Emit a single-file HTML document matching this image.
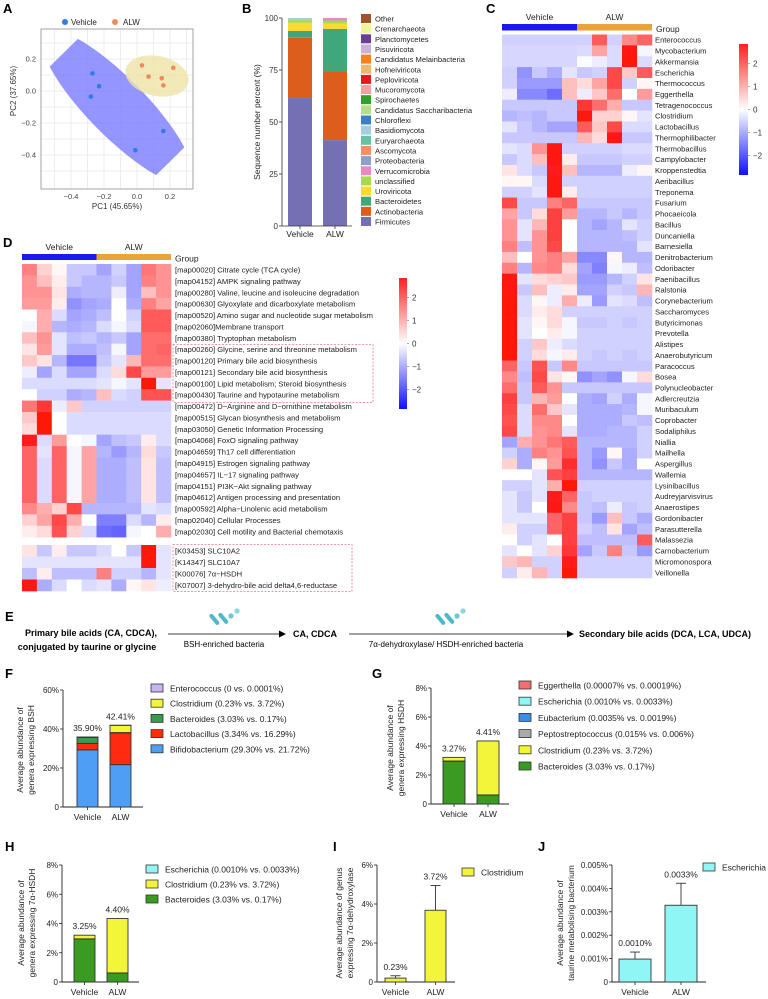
<!DOCTYPE html>
<html><head><meta charset="utf-8">
<style>
html,body{margin:0;padding:0;background:#fff;}
svg{display:block;font-family:"Liberation Sans",sans-serif;}
.n{font-family:"Liberation Sans Narrow","Liberation Sans",sans-serif;}
</style></head>
<body>
<svg id="fig" width="768" height="999" viewBox="0 0 768 999" xmlns="http://www.w3.org/2000/svg">
<g font-weight="bold" font-size="13" fill="#000">
<text x="3" y="13">A</text>
<text x="242" y="13">B</text>
<text x="486" y="13">C</text>
<text x="3" y="247">D</text>
<text x="5" y="621" class="n">E</text>
<text x="5" y="678" class="n">F</text>
<text x="372" y="678" class="n">G</text>
<text x="5" y="851" class="n">H</text>
<text x="333" y="851" class="n">I</text>
<text x="538" y="851" class="n">J</text>
</g>
</svg>
<script>
// ---------- DATA ----------
// Panel A PCA
const pcaVehicleX=[-0.27,-0.23,-0.28,0.16,-0.01];
const pcaVehicleY=[0.11,0.03,-0.035,-0.25,-0.37];
const pcaAlwX=[0.03,0.07,0.15,0.16,0.22];
const pcaAlwY=[0.16,0.09,0.08,0.035,0.145];
const pcaXTicks=[-0.4,-0.2,0.0,0.2];
const pcaYTicks=[0.2,0.0,-0.2,-0.4];
// Panel B stacked phylum
const phylaLegend=["Other","Crenarchaeota","Planctomycetes","Pisuviricota","Candidatus Melainbacteria","Hofneiviricota","Peploviricota","Mucoromycota","Spirochaetes","Candidatus Saccharibacteria","Chloroflexi","Basidiomycota","Euryarchaeota","Ascomycota","Proteobacteria","Verrucomicrobia","unclassified","Uroviricota","Bacteroidetes","Actinobacteria","Firmicutes"];
const phylaColors=["#a0522d","#f0f59a","#6a3d9a","#cab2d6","#f58220","#f0b86e","#e31a1c","#f4a0a0","#33a02c","#b2df8a","#3b7fc4","#a6cee3","#66c2a5","#fc8d62","#8da0cb","#e78ac3","#a6d854","#ffd92f","#40a77a","#dd5e1c","#7570b3"];
const phylaStackOrder=["Firmicutes","Actinobacteria","Bacteroidetes","Uroviricota","unclassified","Verrucomicrobia","Basidiomycota"];
const phylaVehicle=[61.5,29.0,3.3,4.0,1.2,0.0,1.0];
const phylaAlw=[41.3,33.0,20.5,2.5,1.5,1.2,0.0];
const phylaGroups=["Vehicle","ALW"];
const phylaYTicks=[0,25,50,75,100];
// Panel C heatmap
const genera=["Enterococcus","Mycobacterium","Akkermansia","Escherichia","Thermococcus","Eggerthella","Tetragenococcus","Clostridium","Lactobacillus","Thermophilibacter","Thermobacillus","Campylobacter","Kroppenstedtia","Aeribacillus","Treponema","Fusarium","Phocaeicola","Bacillus","Duncaniella","Barnesiella","Denitrobacterium","Odoribacter","Paenibacillus","Ralstonia","Corynebacterium","Saccharomyces","Butyricimonas","Prevotella","Alistipes","Anaerobutyricum","Paracoccus","Bosea","Polynucleobacter","Adlercreutzia","Muribaculum","Coprobacter","Sodaliphilus","Niallia","Mailhella","Aspergillus","Wallemia","Lysinibacillus","Audreyjarvisvirus","Anaerostipes","Gordonibacter","Parasutterella","Malassezia","Carnobacterium","Micromonospora","Veillonella"];
const generaZ=[
[-0.5,-0.5,-0.5,-0.5,-0.5,-0.5,1.8,-0.5,1.3,1.7],
[-0.45,-0.45,-0.45,-0.45,-0.45,-0.4,1.0,-0.4,2.6,-0.1],
[-0.45,-0.45,-0.45,-0.45,-0.45,-0.05,-0.2,-0.4,2.7,-0.4],
[-0.5,-1.2,-0.6,-0.9,-0.3,-0.6,-0.5,2.0,0.6,1.8],
[-0.5,-1.1,-1.1,-1.1,0.7,0.4,1.0,2.0,-0.5,0.1],
[-0.2,-1.3,-1.3,-1.6,0.7,-0.2,0.6,1.6,0.0,1.1],
[-0.6,-0.6,-0.6,-0.6,-0.6,2.2,1.6,0.9,-0.6,-0.6],
[-0.8,-0.7,-0.8,-0.6,-0.6,2.6,0.5,0.5,0.1,-0.3],
[-0.3,-0.6,-0.8,-1.0,-1.0,1.8,0.6,2.0,-0.4,-0.4],
[-0.6,-0.6,-0.6,-0.6,-0.6,0.8,0.4,2.6,-0.6,-0.6],
[-0.3,-0.4,1.2,2.6,-0.5,-0.5,-0.5,-0.5,-0.4,-0.4],
[-0.6,-0.4,0.7,2.6,0.2,-0.6,-0.6,-0.6,-0.5,-0.5],
[0.3,-0.4,-0.6,2.5,0.7,-0.8,-0.8,-0.8,-0.2,0.1],
[0.1,0.1,-0.4,2.6,-0.5,-0.5,-0.5,-0.5,-0.5,-0.5],
[-0.5,-0.5,-0.3,2.6,0.2,-0.5,-0.5,-0.5,-0.5,-0.5],
[2.0,-0.6,-0.6,1.4,1.7,-0.6,-0.6,-0.6,-0.6,-0.6],
[1.0,-0.6,0.4,2.1,1.1,-0.8,-0.8,-0.6,-0.8,-0.6],
[1.2,-0.3,0.8,2.1,0.0,-0.8,-1.0,-0.8,-0.3,-0.5],
[1.2,-0.3,1.2,2.1,0.0,-0.8,-0.8,-0.8,-0.7,-0.5],
[1.4,-0.7,1.2,2.0,0.0,-0.8,-0.8,-0.8,-0.8,-0.3],
[0.7,0.0,1.2,1.4,1.0,-1.3,-1.3,0.1,-0.8,-0.8],
[1.4,-0.8,1.3,1.4,0.4,-1.0,-1.4,-0.1,-0.2,-0.7],
[2.6,-0.3,0.4,0.5,0.6,-1.1,-1.1,-0.8,-0.5,0.3],
[2.6,-0.6,0.7,-0.2,0.2,-1.0,-1.0,-0.5,-0.6,0.8],
[2.7,-0.4,0.1,-0.2,0.9,-0.2,-1.1,-0.3,-0.4,-0.7],
[2.7,-0.4,0.2,0.4,-0.5,-0.5,-0.5,-0.5,-0.5,-0.5],
[2.7,-0.3,0.1,0.4,-0.1,-0.6,-0.6,-0.5,-0.6,-0.5],
[2.7,-0.3,0.0,0.2,-0.1,-0.5,-0.5,-0.5,-0.5,-0.5],
[2.7,-0.5,0.6,-0.2,-0.4,-0.5,-0.5,-0.5,-0.5,-0.5],
[2.7,-0.5,0.4,-0.1,0.2,-0.5,-0.6,-0.5,-0.6,-0.5],
[1.7,-0.6,1.9,-0.6,1.3,-0.6,-0.6,-0.6,-0.6,-0.6],
[1.3,-0.7,2.0,0.3,0.1,-1.2,-1.0,-1.2,-0.1,0.4],
[1.6,-0.6,1.8,1.2,-0.6,-0.6,-0.6,-0.6,-0.6,-0.6],
[2.1,-0.6,0.8,1.1,0.0,-0.9,-1.0,-0.5,-0.9,-0.1],
[2.0,-0.4,1.6,0.6,-0.3,-0.9,-0.9,-0.9,-0.8,-0.1],
[1.9,-0.4,1.3,1.3,0.0,-0.9,-0.9,-0.9,-0.6,-0.7],
[2.0,-0.4,1.2,1.3,-0.3,-0.9,-0.9,-0.8,-0.8,-0.5],
[-1.0,0.9,1.2,1.5,1.8,-0.8,-0.8,-0.8,-0.8,-0.5],
[-0.5,-0.9,1.4,1.2,1.9,-0.8,-1.1,0.1,-0.9,-0.5],
[0.5,-0.9,0.1,1.1,2.3,-0.8,-1.2,-0.6,-0.9,0.0],
[0.0,0.0,-0.3,1.9,2.1,-0.8,-0.8,-0.8,-0.8,-0.8],
[-0.5,-0.5,-0.3,0.9,2.7,-0.5,-0.5,-0.5,-0.5,-0.5],
[-0.3,-0.6,-0.3,2.5,1.7,-0.6,-0.5,-0.5,-0.5,-0.5],
[-0.3,-0.6,0.0,2.6,1.3,-0.6,-0.7,-0.2,-0.6,-0.5],
[-0.3,-0.3,-0.3,1.7,2.1,-0.6,-1.1,0.7,-0.6,-0.9],
[0.2,-0.5,-0.5,1.7,2.1,-0.5,-0.7,0.3,-1.0,-0.7],
[0.0,-0.5,-0.3,0.0,2.1,-0.7,-0.7,-0.7,-0.7,1.8],
[-0.3,0.0,-0.3,0.5,2.2,-1.0,-0.6,1.4,-0.6,-1.1],
[0.6,0.8,-0.5,-0.5,2.5,-0.5,-0.5,-0.5,-0.5,-0.5],
[-0.5,0.2,0.8,-0.5,2.7,-0.5,-0.5,-0.5,-0.5,-0.5]];
const colorbarTicks=[2,1,0,-1,-2];
// Panel D heatmap
const pathways=["[map00020] Citrate cycle (TCA cycle)","[map04152] AMPK signaling pathway","[map00280] Valine, leucine and isoleucine degradation","[map00630] Glyoxylate and dicarboxylate metabolism","[map00520] Amino sugar and nucleotide sugar metabolism","[map02060]Membrane transport","[map00380] Tryptophan metabolism","[map00260] Glycine, serine and threonine metabolism","[map00120] Primary bile acid biosynthesis","[map00121] Secondary bile acid biosynthesis","[map00100] Lipid metabolism; Steroid biosynthesis","[map00430] Taurine and hypotaurine metabolism","[map00472] D\u2212Arginine and D\u2212ornithine metabolism","[map00515] Glycan biosynthesis and metabolism","[map03050] Genetic Information Processing","[map04068] FoxO signaling pathway","[map04659] Th17 cell differentiation","[map04915] Estrogen signaling pathway","[map04657] IL\u221217 signaling pathway","[map04151] PI3K\u2212Akt signaling pathway","[map04612] Antigen processing and presentation","[map00592] Alpha\u2212Linolenic acid metabolism","[map02040] Cellular Processes","[map02030] Cell motility and Bacterial chemotaxis"];
const pathwayZ=[
[1.4,0.5,0.1,-0.6,-0.6,-1.0,-0.5,-1.0,1.5,1.2],
[1.2,0.7,0.2,-0.6,-0.8,-0.8,-0.6,-1.0,1.4,1.2],
[1.2,1.2,0.3,-0.9,-0.8,-0.8,-0.2,-1.0,0.7,1.2],
[1.1,1.1,0.2,-1.2,-1.0,-0.9,0.0,-0.9,1.4,1.0],
[0.0,0.9,-0.4,-1.0,-0.9,-0.7,0.0,-0.5,1.8,1.8],
[-0.1,0.9,-0.8,-0.9,-0.8,-0.4,-0.1,-0.4,1.8,1.8],
[0.7,1.2,-0.3,-0.7,-0.6,-0.8,-0.6,-1.0,1.6,1.6],
[0.3,1.1,-0.3,-0.9,-0.9,-0.7,-0.1,-1.0,1.6,1.7],
[0.6,0.3,-0.8,-1.5,-1.5,-0.6,-0.3,0.8,1.6,1.6],
[-0.2,-1.0,-0.4,-1.0,-1.0,-0.4,0.4,2.0,1.1,1.1],
[-0.4,-0.4,-0.4,-0.4,-0.4,-0.3,-0.1,-0.3,2.7,-0.3],
[0.0,-0.5,-0.5,-0.9,-0.8,0.7,-0.4,-0.5,1.9,1.9],
[1.5,2.2,-0.2,0.6,-0.5,-0.5,-0.5,-0.5,-0.5,-0.5],
[0.6,2.7,0.0,-0.4,-0.4,-0.4,-0.4,-0.4,-0.4,-0.4],
[0.4,2.7,0.0,-0.4,-0.4,-0.4,-0.4,-0.4,-0.4,-0.4],
[2.5,-0.4,1.1,0.0,-0.1,-1.0,-0.7,-0.6,0.2,-0.4],
[1.7,-0.3,1.7,-0.1,1.0,-0.8,-1.1,-0.8,0.4,-0.6],
[1.7,-0.4,1.7,-0.1,1.0,-0.9,-0.9,-0.7,0.3,-0.7],
[1.7,-0.4,1.7,-0.1,1.0,-0.9,-0.9,-0.7,0.3,-0.7],
[1.7,-0.4,1.7,-0.1,1.0,-0.9,-0.9,-0.7,0.3,-0.7],
[1.7,-0.4,1.7,-0.1,1.0,-0.9,-0.9,-0.7,0.3,-0.7],
[1.3,0.9,0.5,2.0,-0.8,-0.8,-0.8,-0.8,-0.3,-0.4],
[0.5,1.0,2.0,0.9,0.0,-1.4,-1.4,-0.4,-0.8,0.2],
[0.2,0.4,1.9,0.5,-0.4,-1.6,-1.7,-0.1,0.0,0.9]];
const keggGenes=["[K03453] SLC10A2","[K14347] SLC10A7","[K00076] 7\u03b1\u2212HSDH","[K07007] 3-dehydro-bile acid delta4,6-reductase"];
const keggZ=[
[0.3,-0.6,0.2,-0.6,-0.6,-0.4,0.0,-0.6,2.7,-0.3],
[-0.3,-0.3,-0.3,-0.3,-0.3,-0.3,-0.3,-0.3,2.7,-0.3],
[-0.7,0.2,-0.7,-0.7,-0.7,1.4,-0.5,-0.5,-0.8,-0.3],
[2.6,-0.9,-0.4,0.0,-0.4,-0.3,-0.9,0.1,0.3,-0.2]];
// Panel F
const fGenera=["Bifidobacterium","Lactobacillus","Bacteroides","Clostridium","Enterococcus"];
const fLegend=["Enterococcus (0 vs. 0.0001%)","Clostridium (0.23% vs. 3.72%)","Bacteroides (3.03% vs. 0.17%)","Lactobacillus (3.34% vs. 16.29%)","Bifidobacterium (29.30% vs. 21.72%)"];
const fColors=["#4f9ef5","#ff2a10","#3a9a50","#f2f53a","#c9b3f0"];
const fVehicle=[29.30,3.34,3.03,0.23,0.0];
const fAlw=[21.72,16.29,0.17,3.72,0.0001];
const fTotals=["35.90%","42.41%"];
const fYTicks=[0,20,40,60];
// Panel G
const gLegend=["Eggerthella (0.00007% vs. 0.00019%)","Escherichia (0.0010% vs. 0.0033%)","Eubacterium (0.0035% vs. 0.0019%)","Peptostreptococcus (0.015% vs. 0.006%)","Clostridium (0.23% vs. 3.72%)","Bacteroides (3.03% vs. 0.17%)"];
const gLegendColors=["#f07070","#8ff5f5","#3b8de8","#aaaaaa","#f2f53a","#3a9a22"];
const gVehicle=[2.95,0.015,0.25];
const gAlw=[0.62,0.006,3.72];
const gStackColors=["#3a9a22","#aaaaaa","#f2f53a"];
const gTotals=["3.27%","4.41%"];
const gYTicks=[0,2,4,6,8];
// Panel H
const hLegend=["Escherichia (0.0010% vs. 0.0033%)","Clostridium (0.23% vs. 3.72%)","Bacteroides (3.03% vs. 0.17%)"];
const hLegendColors=["#8ff5f5","#f2f53a","#3a9a22"];
const hVehicle=[2.95,0.25];
const hAlw=[0.62,3.72];
const hStackColors=["#3a9a22","#f2f53a"];
const hTotals=["3.25%","4.40%"];
const hYTicks=[0,2,4,6,8];
// Panel I
const iMeans=[0.2,3.68];
const iErrTop=[0.32,4.95];
const iLabels=["0.23%","3.72%"];
const iYTicks=[0,2,4,6];
// Panel J
const jMeans=[0.00098,0.00328];
const jErrTop=[0.00128,0.00422];
const jLabels=["0.0010%","0.0033%"];
const jYTicks=[0,0.001,0.002,0.003,0.004,0.005];
const groups=["Vehicle","ALW"];

// ---------- HELPERS ----------
const NS="http://www.w3.org/2000/svg";
const svg=document.getElementById('fig');
function mk(tag,attrs,parent){const e=document.createElementNS(NS,tag);for(const k in attrs)e.setAttribute(k,attrs[k]);(parent||svg).appendChild(e);return e;}
function tx(str,x,y,attrs,parent){const e=mk('text',Object.assign({x:x,y:y},attrs||{}),parent);e.textContent=str;return e;}
function hc(v){const t=Math.min(1,Math.abs(v)/2.8);const c=Math.round(255*(1-t));return v>=0?`rgb(255,${Math.max(c,Math.round(25*t))},${c})`:`rgb(${c},${c},255)`;}

// ---------- PANEL A ----------
(function(){
const g=mk('g',{});


const L=41,R=193,T=29,B=189;
const sx=v=>137+v*165, sy=v=>91-v*160;
const bg=mk('rect',{x:L,y:T,width:R-L,height:B-T,fill:'#fff'},g);


for(let v=-0.5;v<=0.31;v+=0.1){const x=sx(v);if(x>L&&x<R){const l=mk('line',{x1:x,x2:x,y1:T,y2:B,stroke:'#e6e6e6','stroke-width':0.7},g);}}
for(let v=-0.5;v<=0.41;v+=0.1){const y=sy(v);if(y>T&&y<B){const l=mk('line',{x1:L,x2:R,y1:y,y2:y,stroke:'#e6e6e6','stroke-width':0.7},g);}}
const cp=mk('clipPath',{id:'pcaclip'},g);mk('rect',{x:L,y:T,width:R-L,height:B-T},cp);
const e1=mk('ellipse',{cx:117,cy:107,rx:104,ry:29,transform:'rotate(45.5 117 107)',fill:'#7b7bff','fill-opacity':0.8,'clip-path':'url(#pcaclip)'},g);


const e2=mk('ellipse',{cx:157,cy:76,rx:32,ry:20,transform:'rotate(12 157 76)',fill:'#efe3a8','fill-opacity':0.8},g);


pcaVehicleX.forEach((v,i)=>{const c=mk('circle',{cx:sx(v),cy:sy(pcaVehicleY[i]),r:2.3,fill:'#2f7ce8'},g);});
pcaAlwX.forEach((v,i)=>{const c=mk('circle',{cx:sx(v),cy:sy(pcaAlwY[i]),r:2.3,fill:'#f08a5d'},g);});
const fr=mk('rect',{x:L,y:T,width:R-L,height:B-T,fill:'none',stroke:'#8c8c8c','stroke-width':0.8},g);


pcaXTicks.forEach(v=>{const t=tx(v.toFixed(1).replace('-','\u2212'),sx(v),199,{'font-size':7.5,fill:'#444','text-anchor':'middle'},g);});
pcaYTicks.forEach(v=>{const t=tx(v.toFixed(1).replace('-','\u2212'),36,sy(v)+2.5,{'font-size':7.5,fill:'#444','text-anchor':'end'},g);});
const xl=tx('PC1 (45.65%)',117,209,{'font-size':8,fill:'#333','text-anchor':'middle'},g);


const yl=tx('PC2 (37.65%)',0,0,{'font-size':8,fill:'#333','text-anchor':'middle',transform:'translate(16,91) rotate(-90)'},g);


const ld1=mk('circle',{cx:65,cy:22,r:3,fill:'#2f7ce8',stroke:'#9ab',"stroke-width":0.5},g);


const lt1=tx('Vehicle',71,25,{'font-size':8,fill:'#222'},g);


const ld2=mk('circle',{cx:115,cy:22,r:3,fill:'#f08a5d'},g);


const lt2=tx('ALW',123,25,{'font-size':8,fill:'#222'},g);


})();

// ---------- PANEL B ----------
(function(){
const g=mk('g',{});


const y0=226, k=2.08, ax=282;
const sy=v=>y0-v*k;
const barX=[288,323], bw=24;
[phylaVehicle,phylaAlw].forEach((vals,gi)=>{let acc=0;vals.forEach((v,i)=>{if(v<=0)return;const col=phylaColors[phylaLegend.indexOf(phylaStackOrder[i])];const r=mk('rect',{x:barX[gi],y:sy(acc+v),width:bw,height:v*k,fill:col},g);acc+=v;});});
const ay=mk('line',{x1:ax,x2:ax,y1:sy(100),y2:y0,stroke:'#333','stroke-width':0.8},g);


const axx=mk('line',{x1:ax,x2:352,y1:y0,y2:y0,stroke:'#333','stroke-width':0.8},g);


phylaYTicks.forEach(v=>{mk('line',{x1:ax-3,x2:ax,y1:sy(v),y2:sy(v),stroke:'#333','stroke-width':0.8},g);const t=tx(String(v),ax-4,sy(v)+3,{'font-size':8,fill:'#333','text-anchor':'end'},g);});
phylaGroups.forEach((n,i)=>{mk('line',{x1:barX[i]+bw/2,x2:barX[i]+bw/2,y1:y0,y2:y0+3,stroke:'#333','stroke-width':0.8},g);const t=tx(n,barX[i]+bw/2,237,{'font-size':8.5,fill:'#222','text-anchor':'middle'},g);});
const yl=tx('Sequence number percent (%)',0,0,{'font-size':8.5,fill:'#222','text-anchor':'middle',transform:'translate(260,122) rotate(-90)'},g);


phylaLegend.forEach((n,i)=>{const y=14+i*10.15;const r=mk('rect',{x:361,y:y,width:10,height:9,fill:phylaColors[i]},g);const t=tx(n,375,y+7.5,{'font-size':7.6,fill:'#222'},g);});
})();

// ---------- HEATMAP helper ----------
function heat(rows,labels,x0,y0,cw,rh,name,fs,gbarY,labelX){
const g=mk('g',{});


rows.forEach((row,ri)=>{row.forEach((v,ci)=>{const r=mk('rect',{x:x0+ci*cw,y:y0+ri*rh,width:cw+0.3,height:rh+0.3,fill:hc(v)},g);});
const t=tx(labels[ri],labelX,y0+ri*rh+rh*0.75,{'font-size':fs,fill:'#222'},g);});
return g;}
function groupBar(x0,cw,y,h,textY,name){
const g=mk('g',{});


const b1=mk('rect',{x:x0,y:y,width:cw*5,height:h,fill:'#1a1aee'},g);


const b2=mk('rect',{x:x0+cw*5,y:y,width:cw*5,height:h,fill:'#e8a43a'},g);


const t1=tx('Vehicle',x0+cw*2.5,textY,{'font-size':8.5,fill:'#222','text-anchor':'middle'},g);


const t2=tx('ALW',x0+cw*7.5,textY,{'font-size':8.5,fill:'#222','text-anchor':'middle'},g);


const t3=tx('Group',x0+cw*10+4,y+h+1.5,{'font-size':8.5,fill:'#222'},g);


}
function colorbar(x,y,w,h,id,name){
const defs=mk('defs',{});
const lg=mk('linearGradient',{id:id,x1:0,y1:0,x2:0,y2:1},defs);
[[0,'#ff2020'],[0.5,'#ffffff'],[1,'#1010ff']].forEach(s=>mk('stop',{offset:s[0],'stop-color':s[1]},lg));
const r=mk('rect',{x:x,y:y,width:w,height:h,fill:`url(#${id})`});


const sc=h/5.7;
colorbarTicks.forEach(v=>{const yy=y+h/2-v*sc;mk('line',{x1:x+w,x2:x+w+2,y1:yy,y2:yy,stroke:'#555','stroke-width':0.5});const t=tx(v<0?'\u2212'+Math.abs(v):String(v),x+w+5,yy+3,{'font-size':8,fill:'#333'});});
}
// Panel C
groupBar(502,15,24,6.5,20,'genus-heatmap-group-bar');
heat(generaZ,genera,502,34.5,15,10.87,'genus-heatmap',7.6,24,655);
colorbar(739,44,9,131,'cbC','genus-heatmap-colorbar');
// Panel D
groupBar(22,14.9,254,6,250,'pathway-heatmap-group-bar');
heat(pathwayZ,pathways,22,264,14.9,11.38,'pathway-heatmap',7.6,254,175);
heat(keggZ,keggGenes,22,545,14.9,11.5,'kegg-gene-heatmap',7.6,0,175);
colorbar(399,278,8,131,'cbD','pathway-heatmap-colorbar');
(function(){
const b1=mk('rect',{x:173,y:344.5,width:200,height:58,fill:'none',stroke:'#e8788a','stroke-width':0.8,'stroke-dasharray':'2,1.5'});


const b2=mk('rect',{x:173,y:544.5,width:179,height:47,fill:'none',stroke:'#e8788a','stroke-width':0.8,'stroke-dasharray':'2,1.5'});


})();

// ---------- PANEL E ----------
(function(){
const g=mk('g',{'font-family':'"Liberation Sans Narrow","Liberation Sans",sans-serif'});


const t1=tx('Primary bile acids (CA, CDCA),',91,636,{'font-size':9,'font-weight':'bold','text-anchor':'middle'},g);


const t1b=tx('conjugated by taurine or glycine',87,650,{'font-size':9,'font-weight':'bold','text-anchor':'middle'},g);


const a1=mk('line',{x1:168,x2:279,y1:634,y2:634,stroke:'#000','stroke-width':0.8},g);


mk('polygon',{points:'279,630.5 286,634 279,637.5',fill:'#000'},g);
const l1=tx('BSH-enriched bacteria',224,647,{'font-size':8,'text-anchor':'middle'},g);


const t2=tx('CA, CDCA',293,637,{'font-size':9,'font-weight':'bold'},g);


const a2=mk('line',{x1:349,x2:567,y1:634,y2:634,stroke:'#000','stroke-width':0.8},g);


mk('polygon',{points:'567,630.5 574,634 567,637.5',fill:'#000'},g);
const l2=tx('7\u03b1-dehydroxylase/ HSDH-enriched bacteria',446,647,{'font-size':8,'text-anchor':'middle'},g);


const t3=tx('Secondary bile acids (DCA, LCA, UDCA)',579,637,{'font-size':9,'font-weight':'bold'},g);


[[208,'bsh-bacteria-icon'],[434,'hsdh-bacteria-icon']].forEach(([bx,nm])=>{
const ig=mk('g',{},g);


mk('rect',{x:bx,y:617,width:13,height:4,rx:2,fill:'#4cb8c8',transform:`rotate(50 ${bx+6} 619)`},ig);
mk('rect',{x:bx+9,y:616,width:13,height:4,rx:2,fill:'#4cb8c8',transform:`rotate(50 ${bx+15} 618)`},ig);
mk('circle',{cx:bx+23,cy:616,r:2.6,fill:'#6cc8d2'},ig);
mk('circle',{cx:bx+29,cy:611,r:2.6,fill:'#8ad6de'},ig);
});
})();

// ---------- Bar chart helpers ----------
function axesBars(o){
const g=mk('g',{'font-family':'"Liberation Sans Narrow","Liberation Sans",sans-serif'});


const sy=v=>o.y0-(v/o.max)*(o.y0-o.yTop);
const ya=mk('line',{x1:o.ax,x2:o.ax,y1:o.yTop,y2:o.y0,stroke:'#222','stroke-width':0.9},g);


const xa=mk('line',{x1:o.ax,x2:o.axEnd,y1:o.y0,y2:o.y0,stroke:'#222','stroke-width':0.9},g);


o.ticks.forEach(v=>{mk('line',{x1:o.ax-3,x2:o.ax,y1:sy(v),y2:sy(v),stroke:'#222','stroke-width':0.8},g);const t=tx(o.fmt(v),o.ax-4,sy(v)+3,{'font-size':8,fill:'#222','text-anchor':'end'},g);});
groups.forEach((n,i)=>{const cx=o.barX[i]+o.bw/2;mk('line',{x1:cx,x2:cx,y1:o.y0,y2:o.y0+3,stroke:'#222','stroke-width':0.8},g);const t=tx(n,cx,o.y0+13,{'font-size':8.5,fill:'#222','text-anchor':'middle'},g);});
o.ylab.forEach((s,i)=>{const t=tx(s,0,0,{'font-size':8.5,fill:'#222','text-anchor':'middle',transform:`translate(${o.ylx[i]},${o.ylc}) rotate(-90)`},g);});
o.legend.forEach((s,i)=>{const y=o.legY+i*o.legDy;const r=mk('rect',{x:o.legX,y:y-5,width:12,height:8,fill:o.legColors[i],stroke:'#333','stroke-width':0.8},g);const t=tx(s,o.legX+19,y+2.5,{'font-size':8.5,fill:'#222'},g);});
return {g,sy};}
function stacked(o,series,colors,totals){
const {g,sy}=axesBars(o);
series.forEach((vals,gi)=>{let acc=0;vals.forEach((v,i)=>{if(v<=0)return;const r=mk('rect',{x:o.barX[gi],y:sy(acc+v),width:o.bw,height:sy(acc)-sy(acc+v),fill:colors[i],stroke:'#333','stroke-width':0.9},g);acc+=v;});
const t=tx(totals[gi],o.barX[gi]+o.bw/2,sy(acc)-6,{'font-size':8.5,fill:'#222','text-anchor':'middle'},g);});}
function errBars(o,means,tops,labels,color){
const {g,sy}=axesBars(o);
means.forEach((v,i)=>{const cx=o.barX[i]+o.bw/2;
const e=mk('line',{x1:cx,x2:cx,y1:sy(v),y2:sy(tops[i]),stroke:'#333','stroke-width':0.9},g);
const c=mk('line',{x1:cx-5,x2:cx+5,y1:sy(tops[i]),y2:sy(tops[i]),stroke:'#333','stroke-width':0.9},g);
const r=mk('rect',{x:o.barX[i],y:sy(v),width:o.bw,height:o.y0-sy(v),fill:color,stroke:'#333','stroke-width':0.9},g);
const t=tx(labels[i],cx,sy(tops[i])-6,{'font-size':8.5,fill:'#222','text-anchor':'middle'},g);});}
const pct=v=>v===0?'0':v+'%';

// F
stacked({name:'bsh-stacked-bar-chart',ax:63,axEnd:143,y0:807,yTop:690,max:60,ticks:fYTicks,fmt:pct,barX:[77,110],bw:21,
ylab:['Average abundance of','genera expressing BSH'],ylx:[23,34],ylc:750,legend:fLegend,legColors:["#c9b3f0","#f2f53a","#3a9a50","#ff2a10","#4f9ef5"],legX:151,legY:689,legDy:15.2},[fVehicle,fAlw],fColors,fTotals);
// G
stacked({name:'hsdh-stacked-bar-chart',ax:431,axEnd:509,y0:804,yTop:688,max:8,ticks:gYTicks,fmt:pct,barX:[443,477],bw:22,
ylab:['Average abundance of','genera expressing HSDH'],ylx:[393,404],ylc:748,legend:gLegend,legColors:gLegendColors,legX:519,legY:686,legDy:16.2},[gVehicle,gAlw],gStackColors,gTotals);
// H
stacked({name:'7a-hsdh-stacked-bar-chart',ax:62,axEnd:139,y0:982,yTop:865,max:8,ticks:hYTicks,fmt:pct,barX:[74,107],bw:21,
ylab:['Average abundance of','genera expressing 7\u03b1-HSDH'],ylx:[24,35],ylc:923,legend:hLegend,legColors:hLegendColors,legX:146,legY:870,legDy:15},[hVehicle,hAlw],hStackColors,hTotals);
// I
errBars({name:'7a-dehydroxylase-bar-chart',ax:377,axEnd:455,y0:982,yTop:865,max:6,ticks:iYTicks,fmt:pct,barX:[385,425],bw:21,
ylab:['Average abundance of genus','expressing 7\u03b1-dehydroxylase'],ylx:[342,353],ylc:923,legend:['Clostridium'],legColors:['#f2f53a'],legX:462,legY:873,legDy:15},iMeans,iErrTop,iLabels,'#f2f53a');
// J
errBars({name:'taurine-escherichia-bar-chart',ax:612,axEnd:706,y0:982,yTop:865,max:0.005,ticks:jYTicks,fmt:v=>v===0?'0':v.toFixed(3)+'%',barX:[619,665],bw:32,
ylab:['Average abundance of','taurine metabolising bacterium'],ylx:[563,574],ylc:923,legend:['Escherichia'],legColors:['#8ff5f5'],legX:703,legY:868,legDy:15},jMeans,jErrTop,jLabels,'#8ff5f5');
</script>
</body></html>
